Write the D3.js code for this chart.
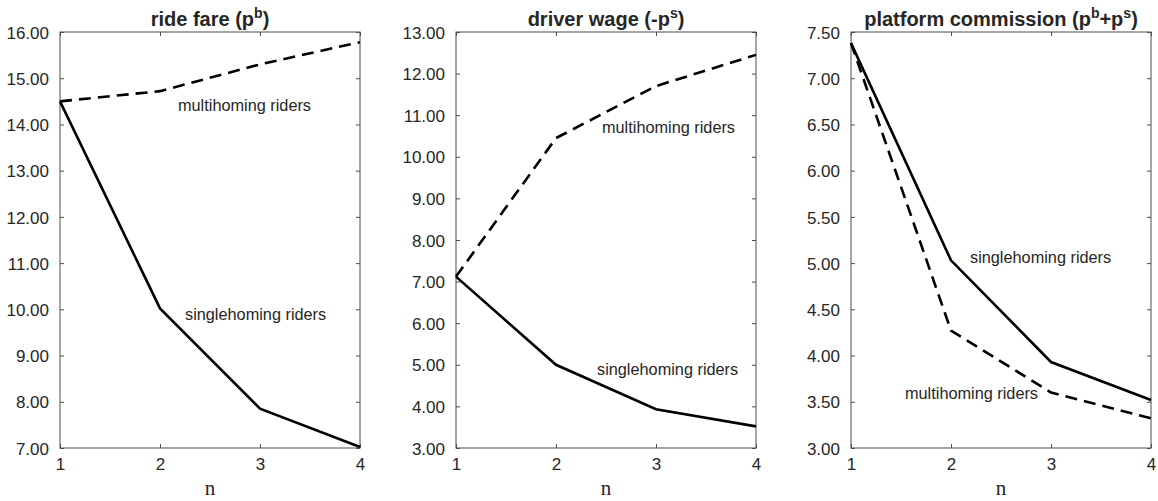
<!DOCTYPE html>
<html>
<head>
<meta charset="utf-8">
<script src="https://cdn.jsdelivr.net/npm/d3@7"></script>
<style>
  body { margin: 0; background: #fff; }
  svg { display: block; }
  text { font-family: "Liberation Sans", Arial, Helvetica, sans-serif; fill: #262626; }
</style>
</head>
<body>
<div id="chart"></div>
<script>
// data
var nVals = [1, 2, 3, 4]
var fareSingle = [14.5, 10.02, 7.85, 7.02]
var fareMulti = [14.5, 14.72, 15.3, 15.78]
var wageSingle = [7.12, 5.0, 3.93, 3.52]
var wageMulti = [7.12, 10.45, 11.7, 12.45]
var commSingle = [7.38, 5.03, 3.93, 3.52]
var commMulti = [7.38, 4.27, 3.6, 3.32]

var fareTicks = [7, 8, 9, 10, 11, 12, 13, 14, 15, 16]
var wageTicks = [3, 4, 5, 6, 7, 8, 9, 10, 11, 12, 13]
var commTicks = [3, 3.5, 4, 4.5, 5, 5.5, 6, 6.5, 7, 7.5]

var W = 1158, H = 501
var plotTop = 32, plotBottom = 448, pw = 300

var panels = [
  {
    left: 60, title: ["ride fare (p", "b", ")"],
    ticks: fareTicks, single: fareSingle, multi: fareMulti,
    labels: [
      {text: "multihoming riders", n: 2.18, v: 14.42},
      {text: "singlehoming riders", n: 2.25, v: 9.9}
    ]
  },
  {
    left: 456, title: ["driver wage (-p", "s", ")"],
    ticks: wageTicks, single: wageSingle, multi: wageMulti,
    labels: [
      {text: "multihoming riders", n: 2.46, v: 10.72},
      {text: "singlehoming riders", n: 2.41, v: 4.9}
    ]
  },
  {
    left: 851, title: ["platform commission (p", "b", "+p", "s", ")"],
    ticks: commTicks, single: commSingle, multi: commMulti,
    labels: [
      {text: "singlehoming riders", n: 2.19, v: 5.06},
      {text: "multihoming riders", n: 1.54, v: 3.59}
    ]
  }
]

var svg = d3.select("#chart").append("svg")
  .attr("width", W)
  .attr("height", H)

var fmt = d3.format(".2f")

panels.forEach(function (p) {
  var x = d3.scaleLinear().domain([1, 4]).range([p.left, p.left + pw])
  var y = d3.scaleLinear()
    .domain([p.ticks[0], p.ticks[p.ticks.length - 1]])
    .range([plotBottom, plotTop])

  var g = svg.append("g")

  // box + inward ticks
  g.append("rect")
    .attr("x", p.left).attr("y", plotTop)
    .attr("width", pw).attr("height", plotBottom - plotTop)
    .attr("fill", "none")
    .attr("stroke", "#4d4d4d")
    .attr("stroke-width", 1)

  var xb = g.append("g").attr("transform", "translate(0," + plotBottom + ")")
    .call(d3.axisBottom(x).tickValues(nVals).tickSize(-4).tickPadding(10).tickFormat(d3.format("d")))
  var xt = g.append("g").attr("transform", "translate(0," + plotTop + ")")
    .call(d3.axisTop(x).tickValues(nVals).tickSize(-4).tickFormat(""))
  var yl = g.append("g").attr("transform", "translate(" + p.left + ",0)")
    .call(d3.axisLeft(y).tickValues(p.ticks).tickSize(-4).tickPadding(11).tickFormat(fmt))
  var yr = g.append("g").attr("transform", "translate(" + (p.left + pw) + ",0)")
    .call(d3.axisRight(y).tickValues(p.ticks).tickSize(-4).tickFormat(""))

  ;[xb, xt, yl, yr].forEach(function (a) {
    a.select(".domain").remove()
    a.selectAll(".tick line").attr("stroke", "#4d4d4d")
    a.selectAll(".tick text")
      .attr("fill", "#262626")
      .style("font-size", "17px")
      .style("font-family", "'Liberation Sans', Arial, sans-serif")
  })
  xb.selectAll(".tick text").attr("dy", "0.71em")
  yl.selectAll(".tick text").attr("dy", "0.36em")

  // lines
  var line = d3.line()
    .x(function (d, i) { return x(nVals[i]) })
    .y(function (d) { return y(d) })

  g.append("path")
    .datum(p.multi)
    .attr("d", line)
    .attr("fill", "none")
    .attr("stroke", "#000")
    .attr("stroke-width", 2.6)
    .attr("stroke-dasharray", "12,7")

  g.append("path")
    .datum(p.single)
    .attr("d", line)
    .attr("fill", "none")
    .attr("stroke", "#000")
    .attr("stroke-width", 2.6)

  // annotations
  p.labels.forEach(function (l) {
    g.append("text")
      .attr("x", x(l.n))
      .attr("y", y(l.v))
      .attr("dy", "0.35em")
      .style("font-size", "16.3px")
      .attr("fill", "#000")
      .text(l.text)
  })

  // title with superscripts
  var t = g.append("text")
    .attr("x", p.left + pw / 2)
    .attr("y", 26)
    .attr("text-anchor", "middle")
    .style("font-size", "20px")
    .style("font-weight", "bold")
    .attr("fill", "#000")
  p.title.forEach(function (s, i) {
    var sup = i % 2 === 1
    var ts = t.append("tspan").text(s)
    if (sup) {
      ts.style("font-size", "14px").attr("dy", -8)
    } else if (i > 0) {
      ts.attr("dy", 8)
    }
  })

  // x label
  g.append("text")
    .attr("x", p.left + pw / 2)
    .attr("y", 495)
    .attr("text-anchor", "middle")
    .style("font-family", "'Liberation Serif', 'DejaVu Serif', serif")
    .style("font-size", "21px")
    .attr("fill", "#262626")
    .text("n")
})
</script>
</body>
</html>
